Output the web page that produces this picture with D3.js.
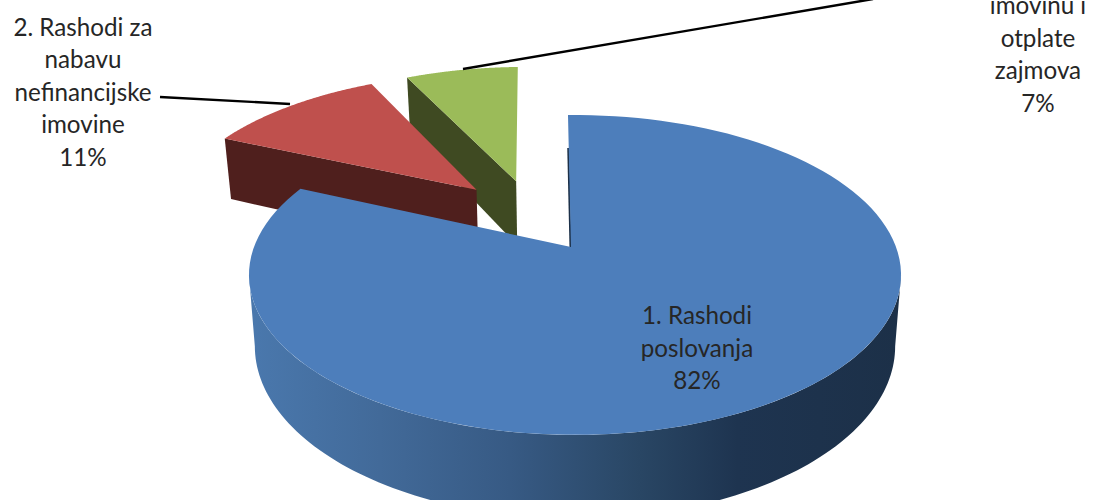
<!DOCTYPE html>
<html><head><meta charset="utf-8">
<script src="https://cdn.jsdelivr.net/npm/d3@7"></script>
<style>html,body{margin:0;padding:0;background:#fff;overflow:hidden}svg{display:block}
text{font-family:Lato,"Open Sans",sans-serif;font-size:24.2px;fill:#262626;text-anchor:middle}</style>
</head><body><svg id="c" width="1100" height="500"></svg>
<script>
// data
const categories = ["1. Rashodi poslovanja","2. Rashodi za nabavu nefinancijske imovine","3. Rashodi za financijsku imovinu i otplate zajmova"];
const values = [82, 11, 7];
const topColors = ["#4d7ebb","#bf504d","#9bbb59"];
const wallColors = ["#1c3048","#4f1f1d","#3f4a22"];
const labelLines = [["1. Rashodi","poslovanja","82%"],["2. Rashodi za","nabavu","nefinancijske","imovine","11%"],["imovinu i","otplate","zajmova","7%"]];
const labelAnchors = [[697,324],[83,36],[1038,14]];
const labelPitch = [32.5,32.4,32.6];
const leaders = [null,[[160,97],[290,104]],[[463,69],[873,-1]]];
const explode = [[0,0],[-.328,.395],[-.198,.458]];
const apexNudge = [[-.0125,0],[0,0],[0,0]];

// projection: pie plane with perspective
const cx=575, cy=247, Rx=321, Ry=155, k=.175, depth=69, shrink=.982;
const rot=-1.47*Math.PI/180;
function P(u,v,low){
  const s=1/(1+k*v);
  let x=Rx*u*s, y=cy-Ry*v*s;
  if(low){x*=shrink; y+=depth*s;}
  return [cx+x,y];
}
const pie=d3.pie().sort(null).startAngle(rot).endAngle(rot+2*Math.PI);
const arcs=pie(values);
const line=d3.line();
const svg=d3.select("#c");
const defs=svg.append("defs");
const g=defs.append("linearGradient").attr("id","side").attr("gradientUnits","userSpaceOnUse")
  .attr("x1",250).attr("x2",900).attr("y1",0).attr("y2",0);
[[0,"#4a78ad"],[.2,"#426a99"],[.4,"#375a84"],[.6,"#294664"],[.75,"#1e3450"],[1,"#1c3048"]]
  .forEach(s=>g.append("stop").attr("offset",s[0]).attr("stop-color",s[1]));

function rim(i,a,low){const e=explode[i];return P(e[0]+Math.sin(a),e[1]+Math.cos(a),low);}
function apex(i,low){const e=explode[i],n=apexNudge[i];return P(e[0]+n[0],e[1]+n[1],low);}
function rimPts(i,a0,a1,low){return d3.range(0,121).map(t=>rim(i,a0+(a1-a0)*t/120,low));}

// back to front: green, red, blue
[2,1,0].forEach(i=>{
  const d=arcs[i], gr=svg.append("g");
  if(i>0){
    gr.append("path").attr("fill",wallColors[i])
      .attr("d",line([apex(i),rim(i,d.startAngle),rim(i,d.startAngle,true),apex(i,true)])+"Z");
  } else {
    const a0=Math.acos(-k),a1=2*Math.PI-a0;
    gr.append("path").attr("fill","url(#side)")
      .attr("d",line(rimPts(0,a0,a1).concat(rimPts(0,a1,a0,true)))+"Z");
    const A=apex(0),T=rim(0,d.startAngle);
    gr.append("path").attr("fill","none").attr("stroke",wallColors[0]).attr("stroke-width",2)
      .attr("d",line([[A[0]-.5,A[1]],[A[0]+(T[0]-A[0])*.75-.5,A[1]+(T[1]-A[1])*.75]]));
  }
  gr.append("path").attr("fill",topColors[i])
    .attr("d",line([apex(i)].concat(rimPts(i,d.startAngle,d.endAngle)))+"Z");
});

leaders.forEach(l=>{ if(l) svg.append("path").attr("fill","none").attr("stroke","#000").attr("stroke-width",2.4).attr("d",line(l)); });
labelLines.forEach((ls,i)=>{
  ls.forEach((t,j)=>{
    svg.append("text").attr("x",labelAnchors[i][0]).attr("y",labelAnchors[i][1]+j*labelPitch[i]).text(t);
  });
});
</script></body></html>
